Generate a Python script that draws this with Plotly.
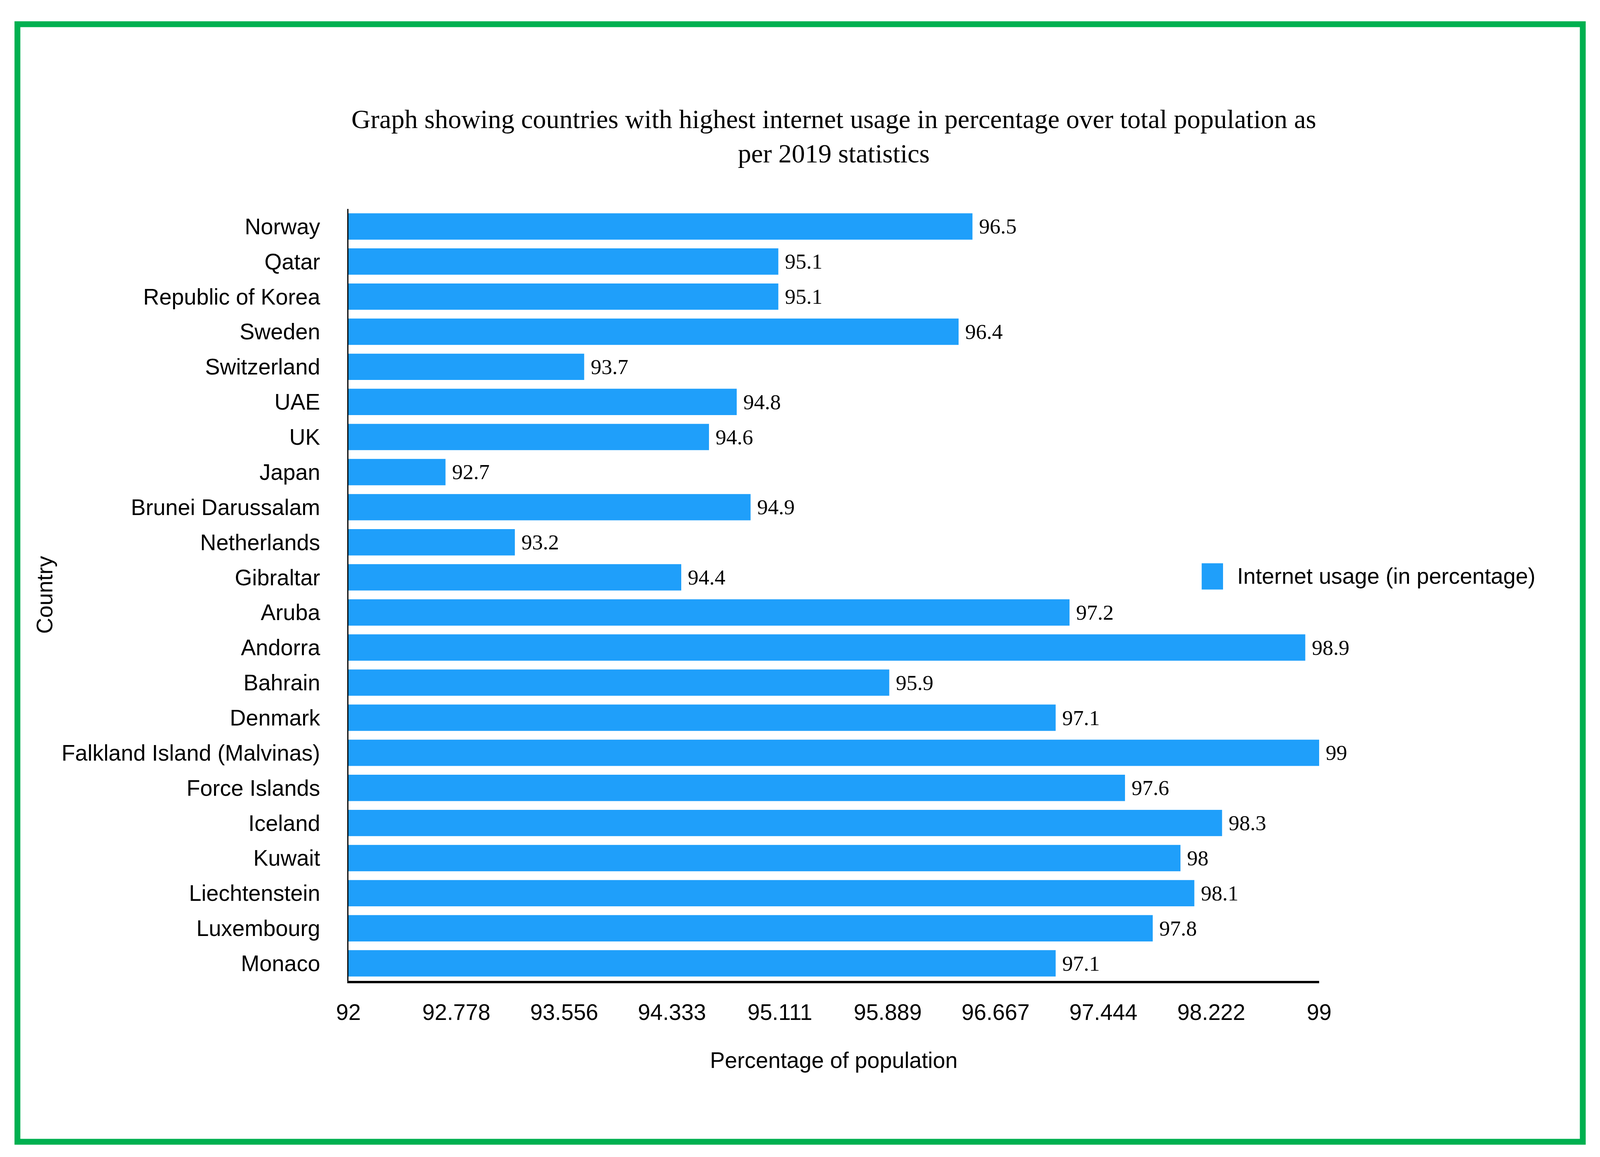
import plotly.graph_objects as go

countries = ["Norway", "Qatar", "Republic of Korea", "Sweden", "Switzerland", "UAE", "UK",
             "Japan", "Brunei Darussalam", "Netherlands", "Gibraltar", "Aruba", "Andorra",
             "Bahrain", "Denmark", "Falkland Island (Malvinas)", "Force Islands", "Iceland",
             "Kuwait", "Liechtenstein", "Luxembourg", "Monaco"]
usage = [96.5, 95.1, 95.1, 96.4, 93.7, 94.8, 94.6, 92.7, 94.9, 93.2, 94.4, 97.2, 98.9,
         95.9, 97.1, 99, 97.6, 98.3, 98, 98.1, 97.8, 97.1]
xticks = [92, 92.778, 93.556, 94.333, 95.111, 95.889, 96.667, 97.444, 98.222, 99]
legend_label = "Internet usage (in percentage)"

blue = "#1F9FFA"
sans = "Liberation Sans, Arial, sans-serif"
serif = "Liberation Serif, Times New Roman, serif"

fig = go.Figure(go.Bar(
    x=usage, y=countries, orientation="h",
    marker=dict(color=blue, line=dict(width=0)),
    text=usage, texttemplate="\u00a0%{x}", textposition="outside",
    textfont=dict(family=serif, size=55, color="black"),
    constraintext="none", cliponaxis=False,
    name=legend_label, showlegend=False,
))

# the browser viewport is 4096 wide, so the page is sized to that
fig.update_layout(
    width=4096, height=2963,
    margin=dict(l=884, r=727, t=527, b=459, autoexpand=False),
    paper_bgcolor="white", plot_bgcolor="white",
    bargap=0.25,
    title=dict(
        text="Graph showing countries with highest internet usage in percentage over total population as<br>per 2019 statistics",
        font=dict(family=serif, size=68, color="black"),
        x=0.5, xref="paper", xanchor="center",
        y=0.892, yref="container", yanchor="top",
    ),
    xaxis=dict(
        range=[92, 99], tickvals=xticks, ticktext=[str(v) for v in xticks],
        showgrid=False, zeroline=False,
        showline=True, linecolor="black", linewidth=6,
        ticks="outside", ticklen=26, tickcolor="rgba(0,0,0,0)",
        tickfont=dict(family=sans, size=57, color="black"),
        title=dict(text="Percentage of population", standoff=74,
                   font=dict(family=sans, size=57, color="black")),
    ),
    yaxis=dict(
        autorange="reversed",
        showgrid=False, zeroline=False,
        showline=True, linecolor="black", linewidth=3,
        ticks="outside", ticklen=58, tickcolor="rgba(0,0,0,0)",
        tickfont=dict(family=sans, size=57, color="black"),
        title=dict(text="Country", standoff=5,
                   font=dict(family=sans, size=57, color="black")),
    ),
    shapes=[
        # green frame around the picture
        dict(type="rect", xref="paper", yref="paper",
             x0=-0.3410, x1=1.2716, y0=-0.2084, y1=1.2393,
             line=dict(color="#00B050", width=15), fillcolor="rgba(0,0,0,0)"),
        # legend swatch
        dict(type="rect", xref="paper", yref="paper",
             x0=0.879, x1=0.901, y0=0.507, y1=0.541,
             line=dict(width=0), fillcolor=blue),
    ],
    annotations=[
        dict(text=legend_label, xref="paper", yref="paper", x=0.9145, y=0.5245,
             xanchor="left", yanchor="middle", showarrow=False,
             font=dict(family=sans, size=57, color="black")),
    ],
)

fig.write_html("out.html")
